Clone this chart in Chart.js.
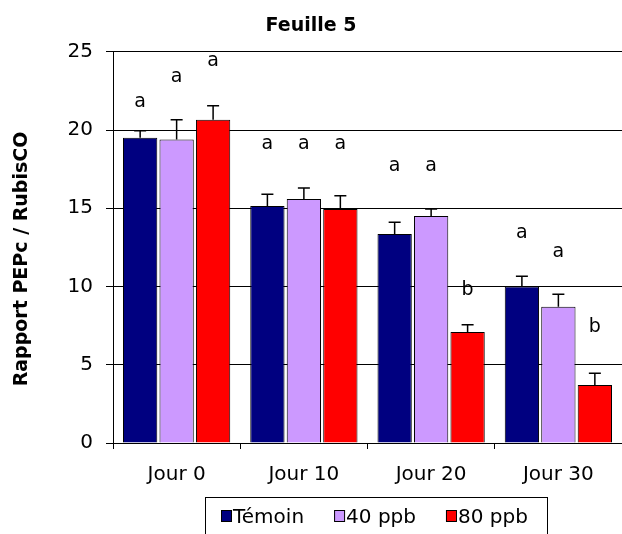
<!DOCTYPE html>
<html lang="fr">
<head>
<meta charset="utf-8">
<title>Feuille 5</title>
<script src="https://cdn.jsdelivr.net/npm/chart.js@4.4.1/dist/chart.umd.min.js"></script>
<style>
  html, body { margin: 0; padding: 0; background: #fff; overflow: hidden; }
  canvas { display: block; }
</style>
</head>
<body>
<canvas id="graphique" width="622" height="534"></canvas>
<script>
const jours = ["Jour 0", "Jour 10", "Jour 20", "Jour 30"];
const temoin = [19.5, 15.15, 13.35, 10.0];
const temoinErr = [0.45, 0.75, 0.75, 0.65];
const ppb40 = [19.4, 15.6, 14.5, 8.7];
const ppb40Err = [1.25, 0.7, 0.45, 0.8];
const ppb80 = [20.65, 14.95, 7.1, 3.7];
const ppb80Err = [0.9, 0.85, 0.45, 0.75];
// lettres des tests et hauteur ou elles sont ecrites (unites de l'axe y)
const temoinLettres = ["a", "a", "a", "a"];
const ppb40Lettres = ["a", "a", "a", "a"];
const ppb80Lettres = ["a", "a", "b", "b"];
const temoinNiveau = [21.8, 19.1, 17.7, 13.4];
const ppb40Niveau = [23.4, 19.1, 17.7, 12.2];
const ppb80Niveau = [24.4, 19.1, 9.8, 7.4];
const graduations = [0, 5, 10, 15, 20, 25];
const titreY = "Rapport PEPc / RubisCO";

Chart.defaults.font.family = "'DejaVu Sans'";
Chart.defaults.font.size = 20;
Chart.defaults.color = "#000";

// barres d'erreur (vers le haut) + lettres
const barresErreur = {
  id: "barresErreur",
  afterDatasetsDraw(chart) {
    const ctx = chart.ctx;
    const y = chart.scales.y;
    ctx.save();
    chart.data.datasets.forEach(function (ds, i) {
      const meta = chart.getDatasetMeta(i);
      meta.data.forEach(function (bar, j) {
        const haut = y.getPixelForValue(ds.data[j] + ds.erreur[j]);
        ctx.strokeStyle = "#000";
        ctx.lineWidth = 1.5;
        ctx.beginPath();
        ctx.moveTo(bar.x, bar.y);
        ctx.lineTo(bar.x, haut);
        ctx.moveTo(bar.x - 6, haut);
        ctx.lineTo(bar.x + 6, haut);
        ctx.stroke();
        ctx.fillStyle = "#000";
        ctx.font = "19px 'DejaVu Sans'";
        ctx.textAlign = "center";
        ctx.textBaseline = "alphabetic";
        ctx.fillText(ds.lettres[j], bar.x, y.getPixelForValue(ds.niveau[j]) + 5);
      });
    });
    ctx.restore();
  },
};

// titre de l'axe y, un peu plus bas que le centre de la zone
const titreAxeY = {
  id: "titreAxeY",
  afterDraw(chart) {
    const ctx = chart.ctx;
    ctx.save();
    ctx.translate(22, 259);
    ctx.rotate(-Math.PI / 2);
    ctx.font = "bold 19px 'DejaVu Sans'";
    ctx.fillStyle = "#000";
    ctx.textAlign = "center";
    ctx.textBaseline = "middle";
    ctx.fillText(titreY, 0, 0);
    ctx.restore();
  },
};

// legende encadree sous le graphique
const legende = {
  id: "legende",
  afterDraw(chart) {
    const ctx = chart.ctx;
    ctx.save();
    ctx.strokeStyle = "#000";
    ctx.lineWidth = 1;
    ctx.strokeRect(205.5, 497.5, 342, 60);
    ctx.font = "20px 'DejaVu Sans'";
    ctx.textAlign = "left";
    ctx.textBaseline = "alphabetic";
    let x = 221;
    chart.data.datasets.forEach(function (ds) {
      ctx.fillStyle = ds.backgroundColor;
      ctx.fillRect(x, 510, 10, 11);
      ctx.strokeRect(x + 0.5, 510.5, 10, 11);
      ctx.fillStyle = "#000";
      ctx.fillText(ds.label, x + 12, 523);
      x += 12 + ctx.measureText(ds.label).width + 30;
    });
    ctx.restore();
  },
};

new Chart(document.getElementById("graphique"), {
  type: "bar",
  data: {
    labels: jours,
    datasets: [
      {
        label: "Témoin",
        data: temoin,
        erreur: temoinErr,
        lettres: temoinLettres,
        niveau: temoinNiveau,
        backgroundColor: "#000080",
      },
      {
        label: "40 ppb",
        data: ppb40,
        erreur: ppb40Err,
        lettres: ppb40Lettres,
        niveau: ppb40Niveau,
        backgroundColor: "#CC99FF",
      },
      {
        label: "80 ppb",
        data: ppb80,
        erreur: ppb80Err,
        lettres: ppb80Lettres,
        niveau: ppb80Niveau,
        backgroundColor: "#FF0000",
      },
    ],
  },
  options: {
    responsive: false,
    animation: false,
    devicePixelRatio: 1,
    layout: { padding: { left: 0, right: 0, top: 0, bottom: 47 } },
    datasets: {
      bar: {
        borderColor: "#000",
        borderWidth: 1,
        categoryPercentage: 0.86,
        barPercentage: 0.94,
      },
    },
    plugins: {
      legend: { display: false },
      tooltip: { enabled: false },
      title: {
        display: true,
        text: "Feuille 5",
        color: "#000",
        font: { size: 19, weight: "bold" },
        padding: { top: 15, bottom: 14 },
      },
    },
    scales: {
      x: {
        grid: {
          display: true,
          offset: true,
          drawOnChartArea: false,
          drawTicks: true,
          tickLength: 6,
          color: "#000",
        },
        border: { display: true, color: "#000", width: 1 },
        ticks: { padding: 14, color: "#000", font: { size: 20 } },
        afterFit: function (s) {
          s.height = 44;
        },
      },
      y: {
        min: 0,
        max: 25,
        afterBuildTicks: function (s) {
          s.ticks = graduations.map(function (v) {
            return { value: v };
          });
        },
        grid: {
          color: "#000",
          lineWidth: 1,
          drawTicks: true,
          tickLength: 7,
        },
        border: { display: true, color: "#000", width: 1 },
        ticks: { padding: 13, color: "#000", font: { size: 20 } },
        afterFit: function (s) {
          s.width = 113;
        },
      },
    },
  },
  plugins: [barresErreur, titreAxeY, legende],
});
</script>
</body>
</html>
